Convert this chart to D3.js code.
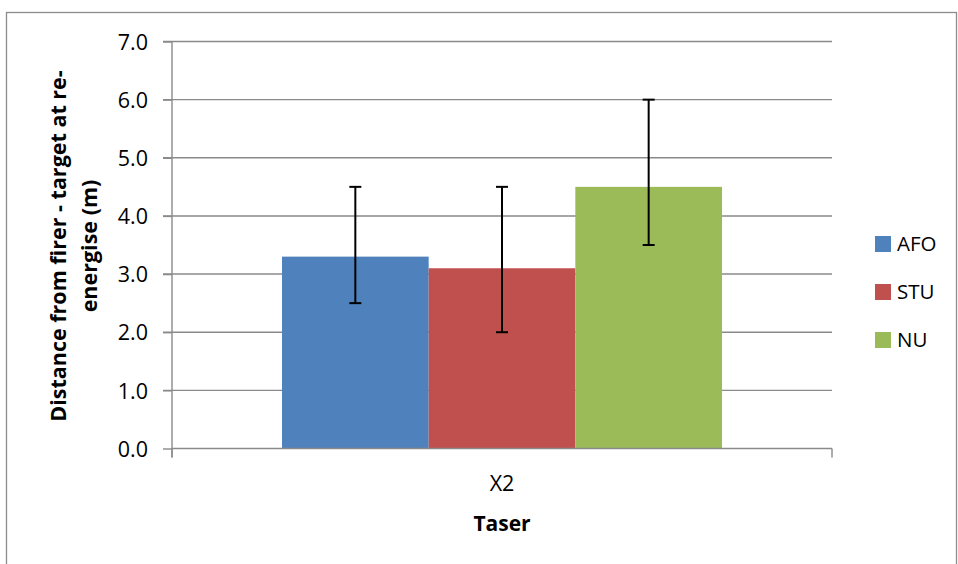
<!DOCTYPE html>
<html><head><meta charset="utf-8">
<script src="https://cdn.jsdelivr.net/npm/d3@7"></script>
<style>body{margin:0;background:#fff;} svg{display:block;} text{font-family:"Open Sans",sans-serif;fill:#000;}</style>
</head><body>
<svg id="c" width="958" height="564"></svg>
<script>
const categories = ["X2"];
const seriesNames = ["AFO", "STU", "NU"];
const seriesColors = ["#4F81BD", "#C0504D", "#9BBB59"];
const values = [3.3, 3.1, 4.5];
const errLow = [2.5, 2.0, 3.5];
const errHigh = [4.5, 4.5, 6.0];
const yTicks = [0, 1, 2, 3, 4, 5, 6, 7];
const yTitle = ["Distance from firer - target at re-", "energise (m)"];
const xTitle = "Taser";

const svg = d3.select("#c");
const m = {l:172, r:832, t:41.5, b:448.5};
svg.append("rect").attr("x",6.5).attr("y",12.5).attr("width",950).attr("height",560)
  .attr("fill","none").attr("stroke","#8c8c8c").attr("stroke-width",1.3);

const y = d3.scaleLinear().domain([0,7]).range([m.b, m.t]);
const x0 = d3.scaleBand().domain(categories).range([m.l, m.r]).paddingInner(0).paddingOuter(0);
const bw = x0.bandwidth();
const gapFrac = 1.5;
const barW = bw / (seriesNames.length + gapFrac);
const x1 = d3.scaleBand().domain(seriesNames).range([gapFrac*barW/2, bw - gapFrac*barW/2]).padding(0);

// gridlines
svg.append("g").selectAll("line").data(yTicks.filter(d=>d>0)).join("line")
  .attr("x1", m.l-9).attr("x2", m.r).attr("y1", d=>y(d)).attr("y2", d=>y(d))
  .attr("stroke","#8a8a8a").attr("stroke-width",1.4);

// y axis
const ya = d3.axisLeft(y).tickValues(yTicks).tickFormat(d3.format(".1f")).tickSize(9).tickPadding(15);
const yg = svg.append("g").attr("transform",`translate(${m.l},0)`).call(ya);
yg.select(".domain").attr("d",`M0,${m.t}V${m.b+9}`).attr("stroke","#8a8a8a").attr("stroke-width",1.4);
yg.selectAll(".tick line").attr("stroke","#8a8a8a").attr("stroke-width",1.4);
yg.selectAll(".tick text").attr("font-size",21.5).attr("font-family","Open Sans").attr("fill","#000").attr("dy","0.36em");

// bars
const bars = svg.append("g");
seriesNames.forEach((s,i)=>{
  bars.append("rect").attr("x", x0(categories[0]) + x1(s)).attr("width", x1.bandwidth())
    .attr("y", y(values[i])).attr("height", y(0)-y(values[i])).attr("fill", seriesColors[i]);
});

// x axis
const xa = svg.append("g");
xa.append("line").attr("x1",m.l).attr("x2",m.r).attr("y1",m.b).attr("y2",m.b).attr("stroke","#8a8a8a").attr("stroke-width",1.4);
[m.l, m.r].forEach(px=>xa.append("line").attr("x1",px).attr("x2",px).attr("y1",m.b).attr("y2",m.b+9).attr("stroke","#8a8a8a").attr("stroke-width",1.4));
xa.append("text").attr("x", x0(categories[0])+bw/2).attr("y", 491).attr("text-anchor","middle").attr("font-size",21.5).text(categories[0]);

// error bars
const eb = svg.append("g").attr("stroke","#000").attr("stroke-width",2);
seriesNames.forEach((s,i)=>{
  const cx = x0(categories[0]) + x1(s) + x1.bandwidth()/2;
  eb.append("line").attr("x1",cx).attr("x2",cx).attr("y1",y(errHigh[i])).attr("y2",y(errLow[i]));
  eb.append("line").attr("x1",cx-6).attr("x2",cx+6).attr("y1",y(errHigh[i])).attr("y2",y(errHigh[i]));
  eb.append("line").attr("x1",cx-6).attr("x2",cx+6).attr("y1",y(errLow[i])).attr("y2",y(errLow[i]));
});

// titles
svg.append("text").attr("x", x0(categories[0])+bw/2).attr("y", 531).attr("text-anchor","middle")
  .attr("font-size",21).attr("font-weight","bold").text(xTitle);
const yt = svg.append("text").attr("transform","translate(0,246) rotate(-90)").attr("text-anchor","middle")
  .attr("font-size",21.5).attr("font-weight","bold");
yt.append("tspan").attr("x",0).attr("y",66).text(yTitle[0]);
yt.append("tspan").attr("x",0).attr("y",97).text(yTitle[1]);

// legend
const lg = svg.append("g");
seriesNames.forEach((s,i)=>{
  const cy = 244 + i*48;
  lg.append("rect").attr("x",875).attr("y",cy-8).attr("width",16).attr("height",16).attr("fill",seriesColors[i]);
  lg.append("text").attr("x",897).attr("y",cy).attr("dy","0.36em").attr("font-size",20.5).text(s);
});
</script>
</body></html>
